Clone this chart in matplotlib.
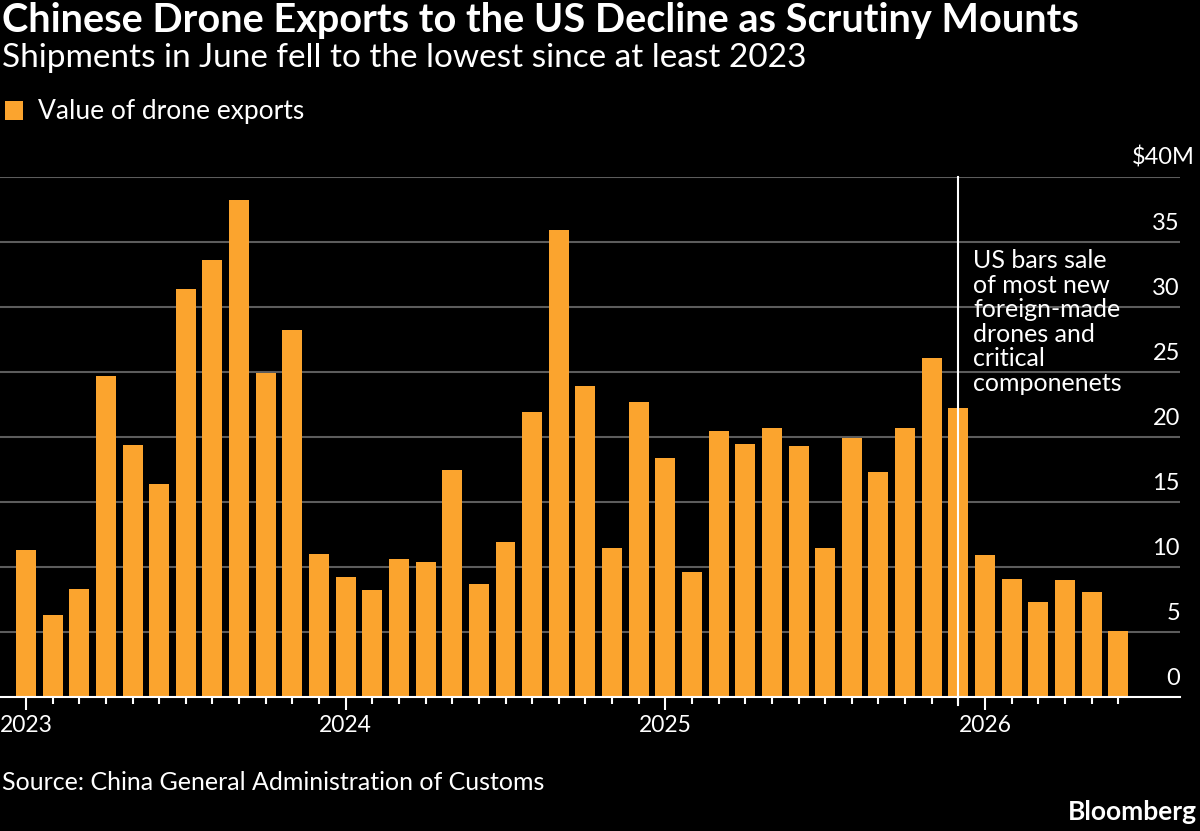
import numpy as np
import pandas as pd
import matplotlib
matplotlib.use('Agg')
import matplotlib.pyplot as plt
import matplotlib.transforms as mtransforms

# monthly value of drone exports to the US, $M
months = pd.period_range('2023-01', '2026-06', freq='M')
values = [11.3, 6.3, 8.3, 24.7, 19.4, 16.4, 31.4, 33.6, 38.2, 24.9, 28.2, 11.0,
          9.2, 8.2, 10.6, 10.4, 17.5, 8.7, 11.9, 21.9, 35.9, 23.9, 11.5, 22.7,
          18.4, 9.6, 20.5, 19.5, 20.7, 19.3, 11.5, 19.9, 17.3, 20.7, 26.1, 22.2,
          10.9, 9.1, 7.3, 9.0, 8.1, 5.1]
y_ticks = [0, 5, 10, 15, 20, 25, 30, 35, 40]
y_labels = ['0', '5', '10', '15', '20', '25', '30', '35', '$40M']
event_month = '2025-12'
event_text = 'US bars sale\nof most new\nforeign-made\ndrones and\ncritical\ncomponenets'

plt.rcParams['font.family'] = ['Lato', 'DejaVu Sans']

ORANGE = '#fba42e'
BG = 'black'
GRID = '#5c5c5c'

fig = plt.figure(figsize=(12, 8.31), dpi=100, facecolor=BG)
ax = fig.add_axes([0, 1 - 697 / 831, 1180 / 1200, (697 - 177) / 831])
ax.set_facecolor(BG)

x = np.arange(len(months))
bars = ax.bar(x, values, width=0.75, color=ORANGE, zorder=3)

ax.set_ylim(0, 40)
ax.set_xlim(-0.976, 43.32)

for v in y_ticks[1:]:
    ax.axhline(v, color=GRID, lw=1.5, zorder=1)

# y labels sit above the gridlines at the right end
trans = mtransforms.blended_transform_factory(ax.transAxes, ax.transData)
for v, lab in zip(y_ticks, y_labels):
    xpos = 1.0 if lab != '$40M' else 1.0 + 15 / 1180
    ax.annotate(lab, (xpos, v), xycoords=trans, xytext=(0, 6), textcoords='offset points',
                ha='right', va='bottom', color='white', fontsize=17)

ax.set_yticks([])
for s in ['top', 'right', 'left']:
    ax.spines[s].set_visible(False)
ax.spines['bottom'].set_color('white')
ax.spines['bottom'].set_linewidth(1.5)
ax.spines['bottom'].set_zorder(4)

years = [i for i, m in enumerate(months) if m.month == 1]
ax.set_xticks(years)
ax.set_xticklabels([str(months[i].year) for i in years])
ax.set_xticks(x, minor=True)
ax.tick_params(axis='x', which='major', length=9, width=1.5, color='white',
               labelcolor='white', labelsize=16.5, pad=4)
ax.tick_params(axis='x', which='minor', length=5, width=1.5, color='white')

# event line and note
ev = list(months.astype(str)).index(event_month)
ax.plot([ev, ev], [-0.6, 40], color='white', lw=1.5, zorder=5, clip_on=False)
ax.text(ev + 0.55, 34.45, event_text, color='white', fontsize=18, va='top', ha='left',
        linespacing=1.08, zorder=6)

fig.text(2 / 1200, 1 - 2 / 831, 'Chinese Drone Exports to the US Decline as Scrutiny Mounts',
         color='white', fontsize=28.5, fontweight='bold', ha='left', va='top')
fig.text(2 / 1200, 1 - 43 / 831, 'Shipments in June fell to the lowest since at least 2023',
         color='white', fontsize=24, ha='left', va='top')

leg = fig.legend(handles=[bars], labels=['Value of drone exports'], loc='center left',
                 bbox_to_anchor=(-0.005, 1 - 112 / 831), frameon=False, fontsize=19,
                 handlelength=0.7, handleheight=0.7, handletextpad=0.55, borderaxespad=0)
for t in leg.get_texts():
    t.set_color('white')

fig.text(2 / 1200, 1 - 782 / 831, 'Source: China General Administration of Customs',
         color='white', fontsize=18, ha='left', va='center')
fig.text(1197 / 1200, 1 - 812 / 831, 'Bloomberg', color='white', fontsize=19,
         fontweight='bold', ha='right', va='center')

fig.savefig('out.png', dpi=100, facecolor=BG)
